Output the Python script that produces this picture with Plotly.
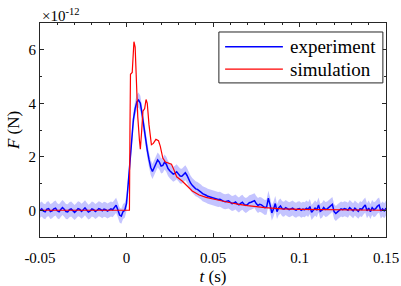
import plotly.graph_objects as go

# ---- data (time in ms, force in units of 1e-12 N) ----
t_exp_ms = list(range(-50, 151))
f_exp = [
    0.0, 0.05, -0.03, -0.06, 0.04, 0.06, -0.05, -0.02, 0.05, 0.08,
    -0.02, -0.06, 0.03, 0.1, 0.04, -0.05, -0.06, 0.02, 0.05, -0.03,
    -0.08, -0.02, 0.06, 0.03, -0.04, 0.02, 0.09, 0.01, -0.07, -0.03,
    0.05, 0.02, -0.05, 0.0, 0.06, 0.03, -0.02, 0.04, 0.02, -0.03,
    0.01, 0.05, 0.02, 0.12, 0.19, 0.02, -0.18, -0.22, -0.05, 0.0,
    0.25, 1.0, 1.9, 2.7, 3.4, 3.8, 4.05, 4.12, 4.0, 3.6,
    3.1, 2.65, 2.25, 1.9, 1.6, 1.45, 1.6, 1.78, 1.88, 1.8,
    1.65, 1.68, 1.8, 1.72, 1.56, 1.48, 1.4, 1.35, 1.38, 1.44,
    1.36, 1.28, 1.27, 1.35, 1.4, 1.3, 1.15, 1.02, 0.93, 0.86,
    0.8, 0.78, 0.74, 0.68, 0.62, 0.6, 0.56, 0.52, 0.5, 0.49,
    0.46, 0.44, 0.42, 0.4, 0.41, 0.36, 0.34, 0.32, 0.33, 0.35,
    0.3, 0.25, 0.27, 0.31, 0.24, 0.2, 0.26, 0.3, 0.22, 0.18,
    0.22, 0.28, 0.3, 0.34, 0.36, 0.25, 0.18, 0.22, 0.2, 0.15,
    0.1, 0.12, 0.45, 0.2, -0.1, 0.05, 0.25, -0.05, 0.1, 0.16,
    0.06, 0.04, 0.1, 0.06, 0.02, 0.05, 0.08, 0.03, 0.0, 0.05,
    0.06, 0.0, 0.04, 0.02, 0.08, 0.03, 0.14, -0.08, 0.02, 0.08,
    0.02, 0.2, -0.04, 0.0, 0.1, 0.03, 0.05, 0.1, 0.18, 0.22,
    -0.05, -0.12, -0.06, 0.0, 0.05, 0.02, 0.06, 0.04, 0.0, 0.1,
    0.05, -0.02, 0.08, 0.0, -0.04, 0.06, 0.03, 0.12, 0.2, -0.02,
    0.08, -0.05, 0.1, 0.02, 0.06, 0.15, 0.2, -0.03, 0.05, -0.02,
    0.08,
]
exp_err = 0.28

t_sim_ms = [-50, 1.7, 2.0, 2.3, 3.3, 3.8, 4.3, 5.0, 5.5, 6.5, 7.5, 8.0, 8.7, 9.5,
            10.5, 11.3, 12.0, 13.0, 14.4, 15.5, 17.0, 18.5, 19.5, 21.0, 22.5, 24,
            26, 27.5, 29, 32, 35, 38, 42, 46, 50, 55, 60, 65, 70, 80, 90, 100,
            110, 120, 130, 140, 150]
f_sim = [0, 0, 3.0, 5.08, 5.15, 5.6, 6.3, 6.1, 5.0, 3.5, 2.6, 2.28, 2.9, 3.7,
         3.8, 4.14, 4.0, 3.2, 2.45, 2.5, 2.65, 2.6, 2.4, 1.95, 1.8, 1.77,
         1.72, 1.5, 1.25, 1.1, 0.9, 0.72, 0.57, 0.48, 0.42, 0.34, 0.28, 0.22,
         0.17, 0.1, 0.05, 0.03, 0.02, 0.01, 0, 0, 0]

series_names = ["experiment", "simulation"]
series_colors = ["rgb(0,0,255)", "rgb(255,0,0)"]

x_ticks = [-0.05, 0, 0.05, 0.1, 0.15]
x_tick_labels = ["-0.05", "0", "0.05", "0.1", "0.15"]
y_ticks = [0, 2, 4, 6]

t_exp = [v / 1000 for v in t_exp_ms]
t_sim = [v / 1000 for v in t_sim_ms]
upper = [v + exp_err for v in f_exp]
lower = [v - exp_err for v in f_exp]

SERIF = "Liberation Serif"
AX = "#262626"

fig = go.Figure()
fig.add_trace(go.Scatter(x=t_exp, y=upper, mode="lines", line=dict(width=0),
                         showlegend=False, hoverinfo="skip"))
fig.add_trace(go.Scatter(x=t_exp, y=lower, mode="lines", line=dict(width=0),
                         fill="tonexty", fillcolor="rgba(70,70,255,0.32)",
                         showlegend=False, hoverinfo="skip"))
fig.add_trace(go.Scatter(x=t_exp, y=f_exp, mode="lines", name=series_names[0],
                         line=dict(color=series_colors[0], width=1.5), showlegend=False))
fig.add_trace(go.Scatter(x=t_sim, y=f_sim, mode="lines", name=series_names[1],
                         line=dict(color=series_colors[1], width=1.2), showlegend=False))

axis_common = dict(
    showline=True, linecolor=AX, linewidth=1, mirror="ticks",
    ticks="inside", ticklen=4, tickcolor=AX, showgrid=False, zeroline=False,
    automargin=False,
    tickfont=dict(family=SERIF, size=15, color="#000"),
)
fig.update_xaxes(range=[-0.05, 0.15], tickvals=x_ticks, ticktext=x_tick_labels,
                 ticklabelstandoff=7,
                 minor=dict(dtick=0.01, ticks="inside", ticklen=2, tickcolor=AX),
                 title=dict(text="<i>t</i> (s)", font=dict(family=SERIF, size=17, color="#000"),
                            standoff=6),
                 **axis_common)
fig.update_yaxes(range=[-1, 7], tickvals=y_ticks,
                 minor=dict(dtick=1, ticks="inside", ticklen=2, tickcolor=AX),
                 title=dict(text="<i>F</i> (N)", font=dict(family=SERIF, size=17, color="#000"),
                            standoff=4),
                 **axis_common)

fig.add_annotation(text="×10<sup>-12</sup>", xref="paper", yref="paper",
                   x=0.0, y=1.0, xanchor="left", yanchor="bottom", showarrow=False,
                   font=dict(family=SERIF, size=15, color="#000"), yshift=-3)

# legend box drawn in paper coordinates (matches the MATLAB-style long line samples)
leg_x0, leg_x1, leg_y0, leg_y1 = 0.517, 0.991, 0.720, 0.958
line_x0, line_x1, text_x = 0.535, 0.702, 0.718
row_y = [0.889, 0.784]
fig.add_shape(type="rect", xref="paper", yref="paper", x0=leg_x0, x1=leg_x1,
              y0=leg_y0, y1=leg_y1, line=dict(color=AX, width=1), fillcolor="white",
              layer="above")
for name, col, ry, w in zip(series_names, series_colors, row_y, [1.5, 1.2]):
    fig.add_shape(type="line", xref="paper", yref="paper", x0=line_x0, x1=line_x1,
                  y0=ry, y1=ry, line=dict(color=col, width=w), layer="above")
    fig.add_annotation(text=name, xref="paper", yref="paper", x=text_x, y=ry,
                       xanchor="left", yanchor="middle", showarrow=False,
                       font=dict(family=SERIF, size=19, color="#000"))

fig.update_layout(
    width=401, height=286,
    margin=dict(l=40, r=15, t=23, b=49),
    plot_bgcolor="white", paper_bgcolor="white",
    showlegend=False,
)

fig.write_html("out.html", config={"displayModeBar": False},
               post_script="document.body.style.margin='0px';")
